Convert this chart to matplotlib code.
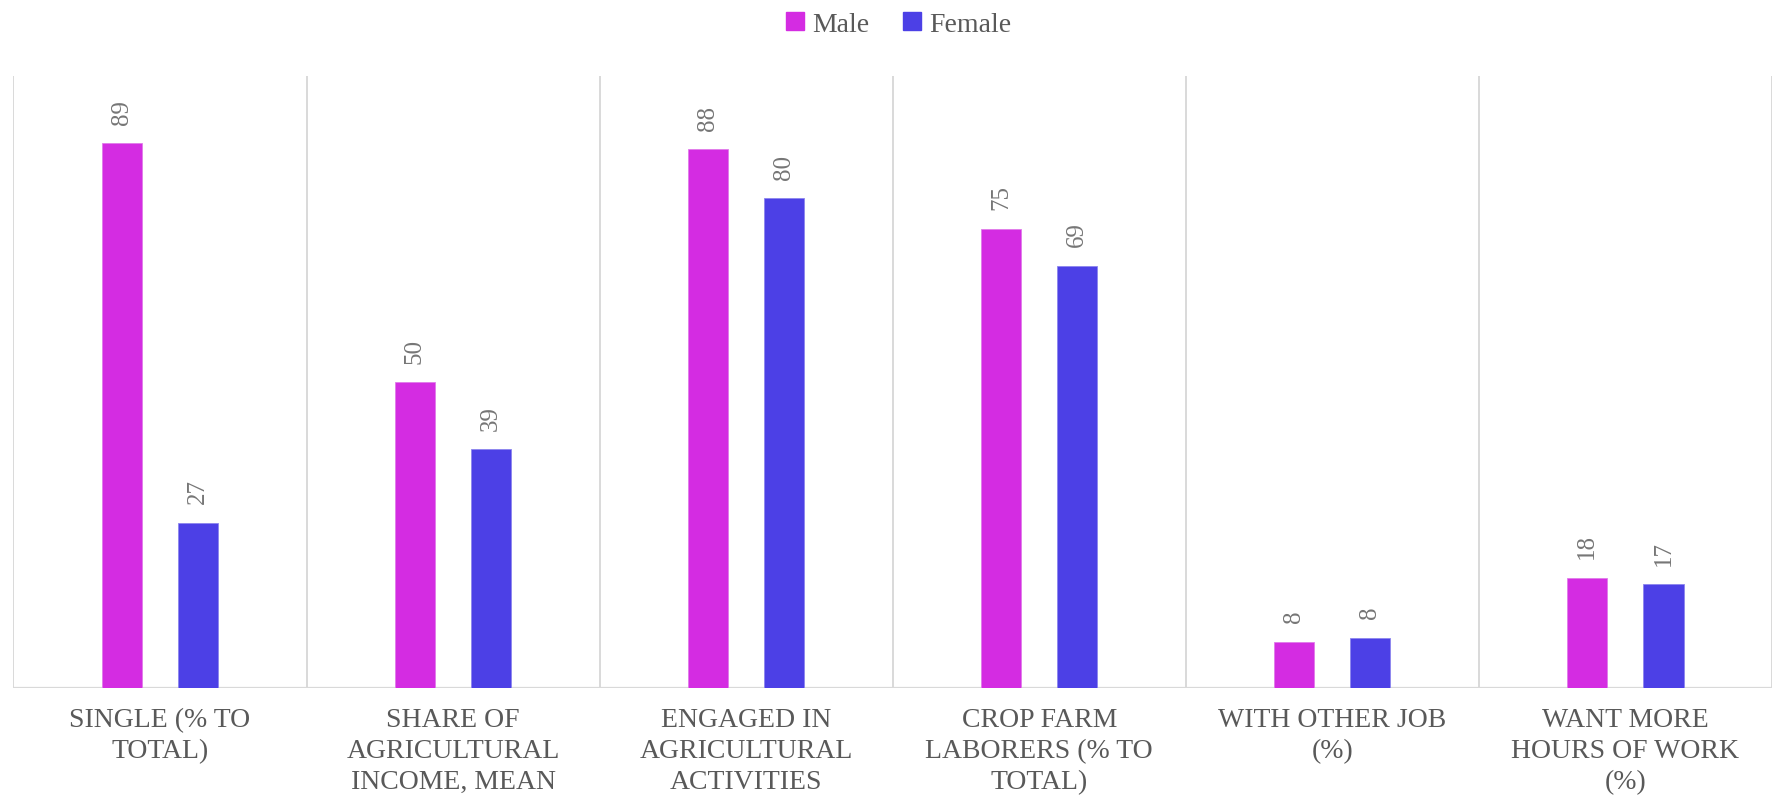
import matplotlib.pyplot as plt
from matplotlib.patches import Patch
import numpy as np

# Kategori etiketleri (satir sonlari eksen altinda sarma icin)
categories = [
    "SINGLE (% TO\nTOTAL)",
    "SHARE OF\nAGRICULTURAL\nINCOME, MEAN",
    "ENGAGED IN\nAGRICULTURAL\nACTIVITIES",
    "CROP FARM\nLABORERS (% TO\nTOTAL)",
    "WITH OTHER JOB\n(%)",
    "WANT MORE\nHOURS OF WORK\n(%)",
]
male = [89, 50, 88, 75, 7.6, 18]
female = [27, 39, 80, 69, 8.2, 17]

MALE_COLOR = "#D42CE2"
FEMALE_COLOR = "#4C40E6"
TEXT_COLOR = "#595959"
LABEL_COLOR = "#767676"
GRID_COLOR = "#D9D9D9"

plt.rcParams["font.family"] = ["Liberation Serif", "DejaVu Serif"]

fig = plt.figure(figsize=(17.73, 8.04), dpi=100)
ax = fig.add_axes([0.0076, 0.143, 0.9918, 0.7614])

x = np.arange(len(categories))
offset = 0.13
width = 0.137

bars_m = ax.bar(x - offset, male, width, color=MALE_COLOR, edgecolor="#E07BEA",
                linewidth=0.6, label="Male", zorder=3)
bars_f = ax.bar(x + offset, female, width, color=FEMALE_COLOR, edgecolor="#8C85EE",
                linewidth=0.6, label="Female", zorder=3)

# Deger etiketleri, dikey yazilmis
for bars in (bars_m, bars_f):
    ax.bar_label(bars, fmt="{:.0f}", rotation=90, padding=14,
                 fontsize=18, color=LABEL_COLOR)

ax.set_xlim(-0.5, len(categories) - 0.5)
ax.set_ylim(0, 100)

# Kategori ayirici dikey cizgiler
for b in np.arange(-0.5, len(categories), 1.0):
    ax.axvline(b, color=GRID_COLOR, linewidth=1.4, zorder=1)
ax.axhline(0, color=GRID_COLOR, linewidth=1.6, zorder=2)

for s in ax.spines.values():
    s.set_visible(False)
ax.set_yticks([])
ax.set_xticks(x)
ax.set_xticklabels(categories, fontsize=20, color=TEXT_COLOR, linespacing=1.3)
ax.tick_params(axis="x", length=0, pad=14)

handles = [Patch(color=MALE_COLOR, label="Male"),
           Patch(color=FEMALE_COLOR, label="Female")]
leg = fig.legend(handles=handles, loc="upper center", bbox_to_anchor=(0.507, 1.015),
                 ncol=2, frameon=False, fontsize=20, handlelength=0.65,
                 handleheight=0.65, handletextpad=0.3, columnspacing=1.2)
for t in leg.get_texts():
    t.set_color(TEXT_COLOR)

fig.savefig("out.png", dpi=100)
plt.close(fig)
